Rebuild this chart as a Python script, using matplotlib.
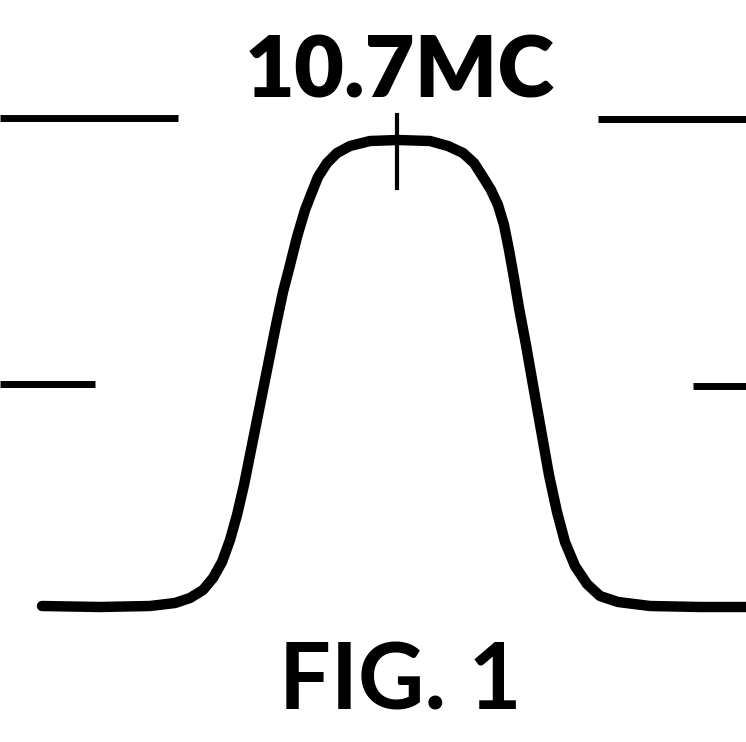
import numpy as np
import matplotlib.pyplot as plt

# response curve (x across, y = level, pixel-like units)
curve_x = [42, 100, 150, 175, 190, 203, 213, 222, 230, 237, 244, 252, 260, 268,
           276, 283, 290, 297, 305, 312, 318, 327, 337, 350, 370, 398, 430, 448,
           463, 474, 483, 491, 498, 504, 509, 514, 519, 526, 533, 541, 549, 557,
           565, 575, 587, 600, 618, 650, 700, 746]
curve_y = [606, 607, 606, 603, 598, 590, 578, 562, 540, 515, 485, 445, 405, 365,
           325, 292, 265, 237, 210, 192, 177, 163, 153, 146, 141, 140, 141, 146,
           153, 163, 177, 190, 205, 225, 250, 278, 308, 345, 385, 430, 475, 512,
           542, 566, 584, 596, 602, 606, 607, 607]

# reference level marks: (x start, x end, level)
ref_lines = [(0, 178, 118), (598, 746, 119), (0, 95, 384), (693, 746, 386)]
center_freq = 397
center_label = "10.7MC"
fig_label = "FIG. 1"

fig = plt.figure(figsize=(7.46, 7.42), dpi=100)
ax = fig.add_axes([0, 0, 1, 1])
ax.set_xlim(0, 746)
ax.set_ylim(742, 0)
ax.axis('off')

ax.plot(curve_x, curve_y, color='black', linewidth=7.5,
        solid_capstyle='round', solid_joinstyle='round')

for x0, x1, lvl in ref_lines:
    ax.plot([x0, x1], [lvl, lvl], color='black', linewidth=5, solid_capstyle='butt')

ax.plot([center_freq, center_freq], [115, 188], color='black', linewidth=3)

ax.text(400, 72, center_label, ha='center', va='center', fontsize=62,
        fontweight='heavy', family='Lato')
ax.text(400, 684, fig_label, ha='center', va='center', fontsize=66,
        fontweight='bold', family='Lato')

fig.savefig('out.png', dpi=100, facecolor='white')
